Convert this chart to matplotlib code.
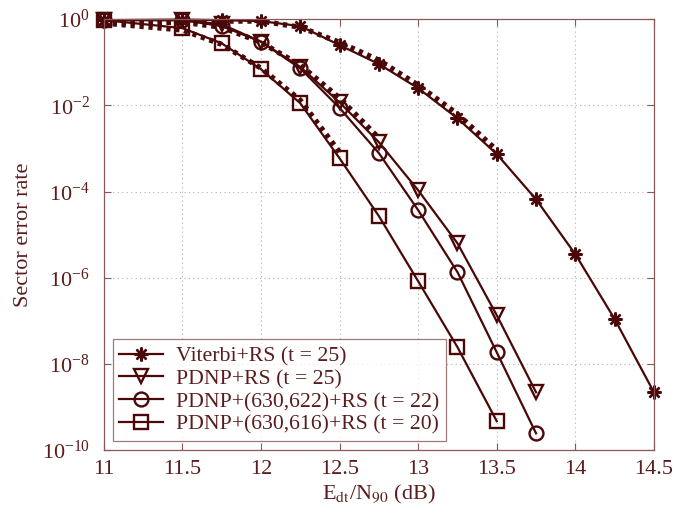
import matplotlib
matplotlib.use("Agg")
import matplotlib.pyplot as plt
from matplotlib.ticker import LogLocator, NullLocator

# E_dt/N_90 (dB)
snr = [11, 11.5, 11.75, 12, 12.25, 12.5, 12.75, 13, 13.25, 13.5, 13.75, 14, 14.25, 14.5]

viterbi = [0.95, 0.98, 0.95, 0.90, 0.69, 0.25, 0.091, 0.025, 5.0e-3, 7.4e-4,
           6.6e-5, 3.5e-6, 1.1e-7, 2.2e-9]
pdnp = [0.95, 0.95, 0.76, 0.30, 0.078, 0.0117, 1.4e-3, 1.07e-4, 6.3e-6, 1.35e-7, 2.2e-9]
pdnp_622 = [0.95, 0.95, 0.69, 0.30, 0.072, 8.7e-3, 7.8e-4, 3.7e-5, 1.35e-6, 1.86e-8, 2.45e-10]
pdnp_616 = [0.95, 0.62, 0.275, 0.069, 0.0112, 5.9e-4, 2.7e-5, 8.3e-7, 2.45e-8, 4.7e-10]

# thick dotted companion curves (no legend entry)
viterbi_dot = [0.81, 0.85, 0.90, 0.90, 0.65, 0.29, 0.112, 0.0295, 6.3e-3, 9.1e-4]
pdnp_dot = [0.81, 0.85, 0.65, 0.29, 0.086, 0.0148, 1.74e-3]
pdnp616_dot = [0.81, 0.56, 0.26, 0.073, 0.0132, 8.2e-4]

col = "#4a0808"
txt = "#5a1c1c"
spine = "#8a5858"

plt.rcParams["font.family"] = ["Liberation Serif", "DejaVu Serif"]
plt.rcParams["mathtext.fontset"] = "stix"

fig, ax = plt.subplots(figsize=(6.92, 5.18), dpi=100)
fig.subplots_adjust(left=0.150, right=0.945, top=0.963, bottom=0.131)

dot_style = dict(color=col, lw=3.8, linestyle=(0, (0.8, 0.9)), dash_capstyle="butt")
ax.plot(snr[:len(viterbi_dot)], viterbi_dot, **dot_style)
ax.plot(snr[:len(pdnp_dot)], pdnp_dot, **dot_style)
ax.plot(snr[:len(pdnp616_dot)], pdnp616_dot, **dot_style)

mk = dict(color=col, lw=1.6, markersize=10, markerfacecolor="none",
          markeredgecolor=col, markeredgewidth=1.7, clip_on=False)
ax.plot(snr[:len(viterbi)], viterbi, marker=(8, 2, 0), label="Viterbi+RS (t = 25)", **mk)
ax.plot(snr[:len(pdnp)], pdnp, marker="v", label="PDNP+RS (t = 25)", **mk)
ax.plot(snr[:len(pdnp_622)], pdnp_622, marker="o", label="PDNP+(630,622)+RS (t = 22)", **mk)
ax.plot(snr[:len(pdnp_616)], pdnp_616, marker="s", label="PDNP+(630,616)+RS (t = 20)", **mk)

ax.set_yscale("log")
ax.set_xlim(11, 14.5)
ax.set_ylim(1e-10, 1)
ax.set_xticks([11, 11.5, 12, 12.5, 13, 13.5, 14, 14.5])
ax.set_xticklabels(["11", "11.5", "12", "12.5", "13", "13.5", "14", "14.5"])
ax.yaxis.set_major_locator(LogLocator(base=100.0, numticks=20))
ax.yaxis.set_minor_locator(NullLocator())

ax.grid(True, which="major", color="#b0b0b0", linestyle=(0, (1, 3)), lw=0.8)
ax.tick_params(direction="in", top=True, right=True, length=5, color=spine,
               labelsize=16, labelcolor=txt)
ax.tick_params(axis="x", pad=7)
ax.tick_params(axis="y", pad=10)
for s in ax.spines.values():
    s.set_color(spine)
    s.set_linewidth(0.9)

ax.set_xlabel(r"E$_{\rm dt}$/N$_{90}$ (dB)", fontsize=16, color=txt, labelpad=3)
ax.set_ylabel("Sector error rate", fontsize=16, color=txt, labelpad=6)

leg = ax.legend(loc="lower left", fontsize=15.7, frameon=True, fancybox=False,
                edgecolor=spine, handlelength=2.0, borderpad=0.3, labelspacing=0.12,
                handletextpad=0.6, borderaxespad=0.4)
leg.get_frame().set_linewidth(0.9)
for t in leg.get_texts():
    t.set_color(txt)

fig.savefig("out.png", dpi=100)
